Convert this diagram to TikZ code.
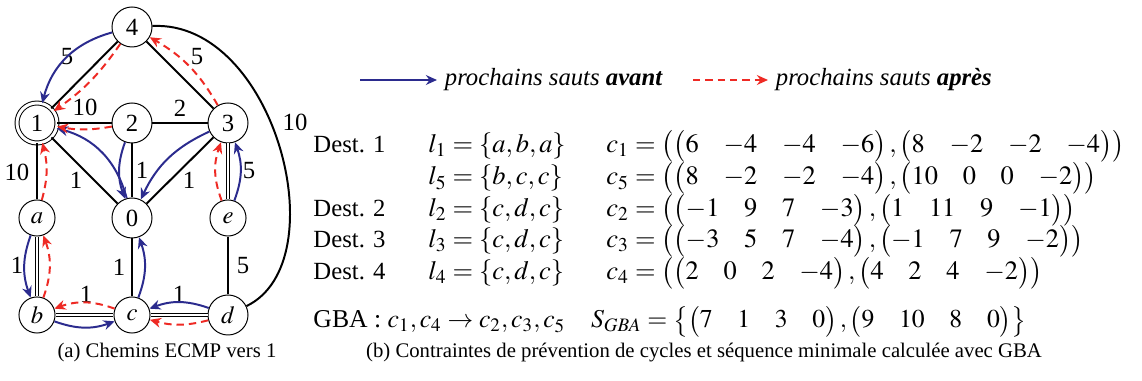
\documentclass[tikz,border=0pt]{standalone}
\usepackage{amsmath}
\usepackage{mathptmx}
\usepackage{fontspec}
\setmainfont{Liberation Serif}
\usetikzlibrary{arrows.meta,positioning}
\definecolor{avantblue}{HTML}{2B2B8E}
\definecolor{apresred}{HTML}{EE2A24}
\tikzset{
  vtx/.style={draw, circle, minimum size=16.2pt, inner sep=0pt},
  vtxs/.style={vtx, minimum size=14.6pt},
  lien/.style={draw=black, line width=0.8pt},
  dlien/.style={draw=black, double, double distance=0.8pt, line width=0.5pt},
  avant/.style={-{Stealth[length=4.5pt, width=4pt]}, draw=avantblue, line width=0.8pt},
  apres/.style={avant, draw=apresred, dash pattern=on 3pt off 2pt},
  poids/.style={inner sep=1pt},
  ligne/.style={anchor=base west, inner sep=0pt},
  maths/.style={ligne, font=\fontsize{10.7}{13}\selectfont},
  legende/.style={font=\fontsize{8.4}{10}\selectfont}
}
\begin{document}
\begin{tikzpicture}[x=0.4049pt, y=-0.4049pt, font=\normalsize]
  \useasboundingbox (0,0) rectangle (1142,381);

  % sommets
  \node[vtx] (n4) at (132,27) {4};
  \node[vtx, double, double distance=1.2pt] (n1) at (37,123) {1};
  \node[vtx] (n2) at (132,123) {2};
  \node[vtx] (n3) at (228,123) {3};
  \node[vtxs] (na) at (37,218) {$a$};
  \node[vtx] (n0) at (132,218) {0};
  \node[vtxs] (ne) at (228,218) {$e$};
  \node[vtxs] (nb) at (37,315) {$b$};
  \node[vtxs] (nc) at (132,315) {$c$};
  \node[vtx] (nd) at (228,315) {$d$};

  % liens
  \draw[lien] (n4) -- (n1);
  \draw[lien] (n4) -- (n3);
  \draw[lien] (n1) -- (n2);
  \draw[lien] (n2) -- (n3);
  \draw[lien] (n1) -- (n0);
  \draw[lien] (n2) -- (n0);
  \draw[lien] (n3) -- (n0);
  \draw[lien] (n1) -- (na);
  \draw[lien] (nc) -- (n0);
  \draw[lien] (nd) -- (ne);
  \draw[dlien] (na) -- (nb);
  \draw[dlien] (nb) -- (nc);
  \draw[dlien] (nc) -- (nd);
  \draw[dlien] (ne) -- (n3);
  \draw[lien] (n4) .. controls (275,20) and (338,262) .. (nd);

  % poids
  \node[poids] (p41) at (67,57) {5};
  \node[poids] (p12) at (85,107) {10};
  \node[poids] (p23) at (180,108) {2};
  \node[poids] (p43) at (197,57) {5};
  \node[poids] (p4d) at (295,122) {10};
  \node[poids] (p1a) at (17,172) {10};
  \node[poids] (p10) at (76,180) {1};
  \node[poids] (p20) at (142,170) {1};
  \node[poids] (p30) at (189,180) {1};
  \node[poids] (pe3) at (249,171) {5};
  \node[poids] (pab) at (17,265) {1};
  \node[poids] (pc0) at (119,267) {1};
  \node[poids] (pde) at (243,266) {5};
  \node[poids] (pbc) at (86,294) {1};
  \node[poids] (pcd) at (179,294) {1};

  % prochains sauts avant
  \draw[avant] (n4) to[bend right=30] (n1);
  \draw[avant] (n0) to[bend right=30] (n1);
  \draw[avant] (n2) to[bend right=20] (n0);
  \draw[avant] (n3) to[bend right=20] (n0);
  \draw[avant] (na) to[bend right=20] (nb);
  \draw[avant] (nb) to[bend right=20] (nc);
  \draw[avant] (nc) to[bend right=20] (n0);
  \draw[avant] (nd) to[bend right=20] (nc);
  \draw[avant] (ne) to[bend right=20] (n3);

  % prochains sauts apres
  \draw[apres] (n4) to[bend left=10] (n1);
  \draw[apres] (n3) to[bend right=15] (n4);
  \draw[apres] (n2) to[bend left=10] (n1);
  \draw[apres] (na) to[bend right=15] (n1);
  \draw[apres] (nb) to[bend right=20] (na);
  \draw[apres] (nc) to[bend right=20] (nb);
  \draw[apres] (nd) to[bend left=15] (nc);
  \draw[apres] (ne) to[bend left=20] (n3);

  % legende
  \coordinate (lb1) at (360,80);
  \coordinate (lb2) at (437,80);
  \draw[avant] (lb1) -- (lb2);
  \node[right=3pt of lb2, inner sep=0pt] (lbt) {\textit{prochains sauts \textbf{avant}}};
  \coordinate (lr1) at (693,80);
  \coordinate (lr2) at (768,80);
  \draw[apres] (lr1) -- (lr2);
  \node[right=3pt of lr2, inner sep=0pt] (lrt) {\textit{prochains sauts \textbf{après}}};

  % contraintes
  \node[ligne] (d1) at (313,153) {Dest. 1};
  \node[maths] (l1) at (428,153) {$l_1=\{a,b,a\}$};
  \node[maths] (c1) at (606,153) {$c_1=\left(\begin{pmatrix}6&-4&-4&-6\end{pmatrix},\begin{pmatrix}8&-2&-2&-4\end{pmatrix}\right)$};
  \node[maths] (l5) at (428,185) {$l_5=\{b,c,c\}$};
  \node[maths] (c5) at (606,185) {$c_5=\left(\begin{pmatrix}8&-2&-2&-4\end{pmatrix},\begin{pmatrix}10&0&0&-2\end{pmatrix}\right)$};
  \node[ligne] (d2) at (313,217) {Dest. 2};
  \node[maths] (l2) at (428,217) {$l_2=\{c,d,c\}$};
  \node[maths] (c2) at (606,217) {$c_2=\left(\begin{pmatrix}-1&9&7&-3\end{pmatrix},\begin{pmatrix}1&11&9&-1\end{pmatrix}\right)$};
  \node[ligne] (d3) at (313,248) {Dest. 3};
  \node[maths] (l3) at (428,248) {$l_3=\{c,d,c\}$};
  \node[maths] (c3) at (606,248) {$c_3=\left(\begin{pmatrix}-3&5&7&-4\end{pmatrix},\begin{pmatrix}-1&7&9&-2\end{pmatrix}\right)$};
  \node[ligne] (d4) at (313,280) {Dest. 4};
  \node[maths] (l4) at (428,280) {$l_4=\{c,d,c\}$};
  \node[maths] (c4) at (606,280) {$c_4=\left(\begin{pmatrix}2&0&2&-4\end{pmatrix},\begin{pmatrix}4&2&4&-2\end{pmatrix}\right)$};
  \node[ligne, font=\fontsize{10.4}{12}\selectfont] (gba) at (313,328) {GBA : $c_1,c_4\to c_2,c_3,c_5$\quad $S_{GBA}=\left\{\begin{pmatrix}7&1&3&0\end{pmatrix},\begin{pmatrix}9&10&8&0\end{pmatrix}\right\}$};

  % legendes
  \node[legende] (capa) at (167,353) {(a) Chemins ECMP vers 1};
  \node[legende] (capb) at (704,353) {(b) Contraintes de prévention de cycles et séquence minimale calculée avec GBA};
\end{tikzpicture}
\end{document}
